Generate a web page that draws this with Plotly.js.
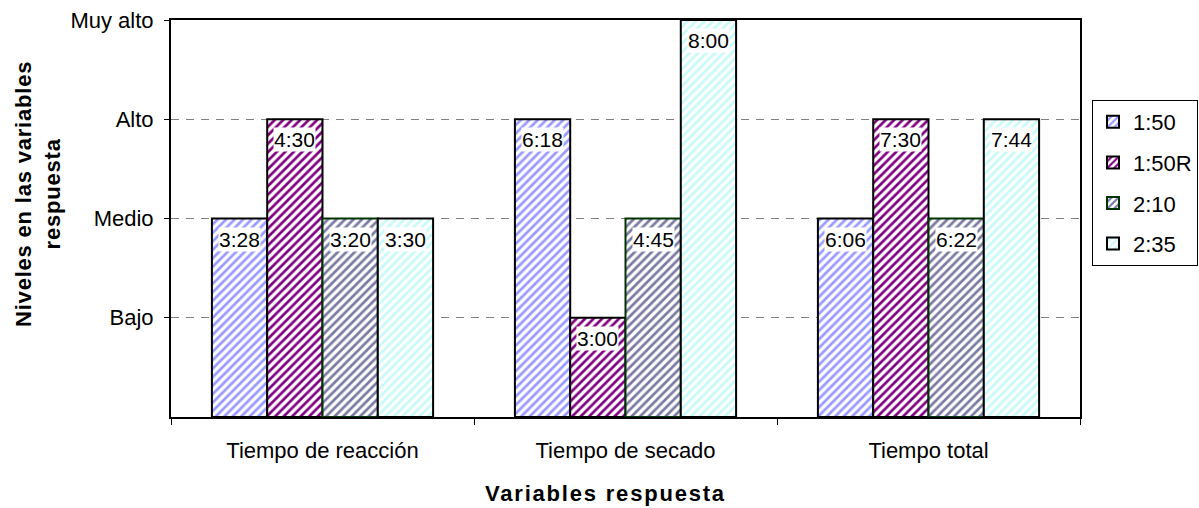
<!DOCTYPE html>
<html>
<head>
<meta charset="utf-8">
<script src="https://cdn.plot.ly/plotly-3.0.1.min.js"></script>
<style>html,body{margin:0;padding:0;background:#fff;}#chart{width:1199px;height:508px;}</style>
</head>
<body>
<div id="chart"></div>
<script>
const categories = ["Tiempo de reacción", "Tiempo de secado", "Tiempo total"];
const seriesNames = ["1:50", "1:50R", "2:10", "2:35"];
const levels_150 = [2, 3, 2];
const levels_150R = [3, 1, 3];
const levels_210 = [2, 2, 2];
const levels_235 = [2, 4, 3];
const labels_150 = ["3:28", "6:18", "6:06"];
const labels_150R = ["4:30", "3:00", "7:30"];
const labels_210 = ["3:20", "4:45", "6:22"];
const labels_235 = ["3:30", "8:00", "7:44"];
const levelTickVals = [1, 2, 3, 4];
const levelTickText = ["Bajo", "Medio", "Alto", "Muy alto"];
const xTitle = "Variables respuesta";
const yTitleLines = ["Niveles en las variables", "respuesta"];

const seriesLevels = [levels_150, levels_150R, levels_210, levels_235];
const seriesLabels = [labels_150, labels_150R, labels_210, labels_235];
const hatchColors = ["#9999FF", "#800080", "#7A7AA3", "#C8FAFA"];
const lineColors = ["#000000", "#000000", "#003300", "#000000"];

const FONT = "Liberation Sans, Arial, sans-serif";
const bargap = 0.27;
const nS = seriesNames.length;
const bw = (1 - bargap) / nS;

const traces = seriesNames.map((name, k) => ({
  type: "bar",
  name: name,
  legendgroup: "g" + k,
  x: categories,
  y: seriesLevels[k],
  marker: {
    color: "#FFFFFF",
    pattern: { shape: "/", fgcolor: hatchColors[k], bgcolor: "#FFFFFF", size: 6, solidity: 0.45, fillmode: "replace" },
    line: { color: lineColors[k], width: 2 }
  },
  hoverinfo: "skip"
}));

const annotations = [];
seriesNames.forEach((name, k) => {
  categories.forEach((c, i) => {
    annotations.push({
      x: i + (k - (nS - 1) / 2) * bw,
      y: seriesLevels[k][i],
      xref: "x", yref: "y",
      text: seriesLabels[k][i],
      showarrow: false,
      yanchor: "top",
      yshift: -8,
      bgcolor: "#FFFFFF",
      borderpad: 0,
      font: { family: FONT, size: 21, color: "#000" }
    });
  });
});
// axis titles (Excel centres them on the chart area)
annotations.push({
  xref: "paper", yref: "paper",
  x: (605 - 171) / 909, y: -(493 - 417) / 397,
  xanchor: "center", yanchor: "middle",
  text: '<span style="letter-spacing:1.8px">' + xTitle + '</span>',
  showarrow: false,
  font: { family: FONT, size: 22, color: "#000", weight: "bold" }
});
annotations.push({
  xref: "paper", yref: "paper",
  x: (38 - 171) / 909, y: (417 - 194) / 397,
  xanchor: "center", yanchor: "middle",
  textangle: -90,
  text: yTitleLines.map(s => '<span style="letter-spacing:0.8px">' + s + '</span>').join("<br>"),
  showarrow: false,
  font: { family: FONT, size: 22, color: "#000", weight: "bold" }
});

const layout = {
  width: 1199, height: 508,
  margin: { l: 171, r: 119, t: 20, b: 91, pad: 0 },
  paper_bgcolor: "#FFFFFF",
  plot_bgcolor: "#FFFFFF",
  barmode: "group",
  bargap: bargap,
  bargroupgap: 0,
  font: { family: FONT, size: 22, color: "#000" },
  showlegend: true,
  legend: {
    xref: "container", yref: "container",
    x: 1092 / 1199, y: 1 - 100 / 508, xanchor: "left", yanchor: "top",
    bordercolor: "#000", borderwidth: 1, bgcolor: "#FFFFFF",
    font: { family: FONT, size: 22, color: "#000" },
    tracegroupgap: 9, itemwidth: 30
  },
  xaxis: {
    type: "category",
    tickson: "boundaries",
    ticks: "outside", ticklen: 6, tickcolor: "#000", tickwidth: 1,
    showline: true, linecolor: "#000", linewidth: 2, mirror: true,
    showgrid: false, zeroline: false,
    ticklabelstandoff: 13,
    tickfont: { family: FONT, size: 22, color: "#000" },
    automargin: false
  },
  yaxis: {
    range: [0, 4],
    tickvals: levelTickVals, ticktext: levelTickText,
    ticks: "outside", ticklen: 5, tickcolor: "#000", tickwidth: 1,
    showline: true, linecolor: "#000", linewidth: 2, mirror: true,
    showgrid: true, gridcolor: "#808080", gridwidth: 1, griddash: "8px,7px",
    zeroline: false,
    ticklabelstandoff: 6,
    tickfont: { family: FONT, size: 22, color: "#000" },
    automargin: false
  },
  annotations: annotations
};

Plotly.newPlot("chart", traces, layout, { staticPlot: true, displayModeBar: false });
</script>
</body>
</html>
